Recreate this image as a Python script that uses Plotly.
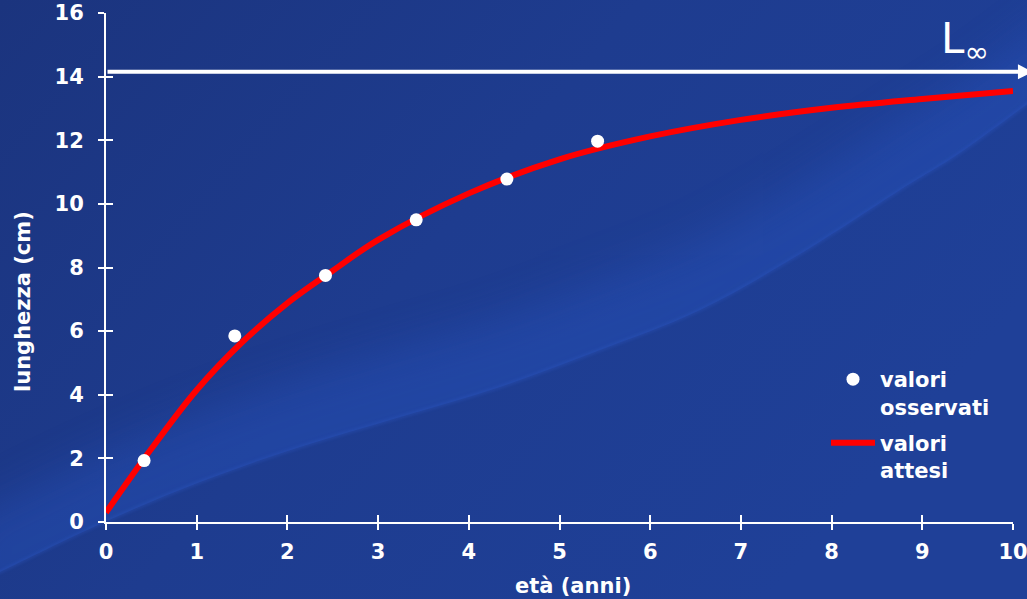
import base64
import plotly.graph_objects as go

# ---------------- data ----------------
age_obs = [0.42, 1.42, 2.42, 3.42, 4.42, 5.42]
len_obs = [1.93, 5.85, 7.75, 9.50, 10.78, 11.97]

age_fit = [0, 0.5, 1, 1.5, 2, 2.5, 3, 4, 5, 6, 7, 8, 9, 10]
len_fit = [0.3, 2.3, 4.15, 5.65, 6.88, 7.9, 8.87, 10.33, 11.4, 12.12, 12.64, 13.02, 13.3, 13.55]

L_inf = 14.15
x_ticks = list(range(0, 11))
y_ticks = list(range(0, 17, 2))

name_obs = "valori<br>osservati"
name_fit = "valori<br>attesi"
x_title = "età (anni)"
y_title = "lunghezza (cm)"

# ---------------- geometry ----------------
W, H = 1027, 599
ML, MR, MT, MB = 106, 14, 13, 77
PW, PH = W - ML - MR, H - MT - MB


def px(x):
    return (x - ML) / PW


def py(y):
    return (H - MB - y) / PH


FONT = "DejaVu Sans"
WHITE = "#ffffff"


# ---------------- background (svg image) ----------------
def smooth_path(pts, start=True):
    """Catmull-Rom -> cubic bezier path through pts."""
    d = f"M{pts[0][0]},{pts[0][1]}" if start else f"L{pts[0][0]},{pts[0][1]}"
    for i in range(len(pts) - 1):
        p0 = pts[i - 1] if i > 0 else pts[i]
        p1, p2 = pts[i], pts[i + 1]
        p3 = pts[i + 2] if i + 2 < len(pts) else p2
        c1 = (p1[0] + (p2[0] - p0[0]) / 6, p1[1] + (p2[1] - p0[1]) / 6)
        c2 = (p2[0] - (p3[0] - p1[0]) / 6, p2[1] - (p3[1] - p1[1]) / 6)
        d += f" C{c1[0]:.1f},{c1[1]:.1f} {c2[0]:.1f},{c2[1]:.1f} {p2[0]},{p2[1]}"
    return d


edge = [(-40, 592), (0, 572), (100, 524), (200, 482), (300, 447), (400, 417),
        (500, 387), (600, 350), (700, 310), (800, 254), (900, 190),
        (967, 148), (1070, 72)]
edge_d = smooth_path(edge)
band_up = [(x, y - 70) for x, y in edge]
band_dn = [(x, y + 40) for x, y in edge]
band_d = (smooth_path(band_dn) + " " + smooth_path(list(reversed(band_up)), start=False) + " Z")
clip_d = edge_d + " L1100,-100 L-100,-100 Z"
svg = f'''<svg xmlns="http://www.w3.org/2000/svg" width="{W}" height="{H}" viewBox="0 0 {W} {H}">
<defs>
<linearGradient id="g" x1="0" y1="0" x2="1" y2="0.5">
<stop offset="0" stop-color="#1b347e"/>
<stop offset="0.5" stop-color="#1e3c8f"/>
<stop offset="1" stop-color="#1f4098"/>
</linearGradient>
<filter id="b" x="-30%" y="-30%" width="160%" height="160%"><feGaussianBlur stdDeviation="22"/></filter>
<filter id="b2" x="-10%" y="-10%" width="120%" height="120%"><feGaussianBlur stdDeviation="1.5"/></filter>
<clipPath id="c"><path d="{clip_d}"/></clipPath>
</defs>
<rect width="{W}" height="{H}" fill="url(#g)"/>
<g clip-path="url(#c)"><path d="{band_d}" fill="#2a58c8" opacity="0.33" filter="url(#b)"/></g>
<path d="{edge_d}" fill="none" stroke="#2f5ccc" stroke-width="3" opacity="0.3" filter="url(#b2)"/>
</svg>'''
bg_src = "data:image/svg+xml;base64," + base64.b64encode(svg.encode()).decode()

# ---------------- figure ----------------
fig = go.Figure()
fig.add_trace(go.Scatter(
    x=age_fit, y=len_fit, mode="lines", name=name_fit, legendgroup="b",
    line=dict(color="#ff0000", width=6, shape="spline", smoothing=1),
    legendrank=2, hoverinfo="skip"))
fig.add_trace(go.Scatter(
    x=age_obs, y=len_obs, mode="markers", name=name_obs, legendgroup="a",
    marker=dict(color=WHITE, size=13, line=dict(width=0)),
    legendrank=1, hoverinfo="skip"))
# helper trace for the inner half of the crossing ticks
fig.add_trace(go.Scatter(x=[], y=[], xaxis="x2", yaxis="y2",
                         showlegend=False, hoverinfo="skip"))

axis_common = dict(showgrid=False, zeroline=False, showline=True,
                   linecolor=WHITE, linewidth=2, ticks="outside",
                   ticklen=6, tickwidth=2, tickcolor=WHITE, automargin=False,
                   ticklabeloverflow="allow",
                   tickfont=dict(family=FONT, size=21, color=WHITE,
                                 weight="bold"))

fig.update_layout(
    width=W, height=H,
    margin=dict(l=ML, r=MR, t=MT, b=MB, pad=0, autoexpand=False),
    paper_bgcolor="#1e3c8e",
    plot_bgcolor="rgba(0,0,0,0)",
    showlegend=True,
    xaxis=dict(range=[0, 10], tickvals=x_ticks, ticklabelstandoff=4,
               **axis_common),
    yaxis=dict(range=[0, 16], tickvals=y_ticks, ticklabelstandoff=10,
               **axis_common),
    xaxis2=dict(range=[0, 10], tickvals=x_ticks, overlaying="x", anchor="y2",
                showgrid=False, zeroline=False, showline=False,
                automargin=False,
                ticks="inside", ticklen=7, tickwidth=2, tickcolor=WHITE,
                showticklabels=False),
    yaxis2=dict(range=[0, 16], tickvals=y_ticks, overlaying="y", anchor="x2",
                showgrid=False, zeroline=False, showline=False,
                automargin=False,
                ticks="inside", ticklen=7, tickwidth=2, tickcolor=WHITE,
                showticklabels=False),
    legend=dict(x=px(826), y=py(359), xanchor="left", yanchor="top",
                bgcolor="rgba(0,0,0,0)", borderwidth=0,
                font=dict(family=FONT, size=21, color=WHITE, weight="bold"),
                valign="top", tracegroupgap=6, itemwidth=44,
                traceorder="grouped"),
    images=[dict(source=bg_src, xref="paper", yref="paper",
                 x=px(0), y=py(0), sizex=W / PW, sizey=H / PH,
                 xanchor="left", yanchor="top", sizing="stretch",
                 layer="below")],
)

# L-infinity arrow
fig.add_annotation(x=10.22, y=L_inf, ax=0, ay=L_inf, xref="x", yref="y",
                   axref="x", ayref="y", text="", showarrow=True,
                   arrowhead=2, arrowsize=0.75, arrowwidth=4,
                   arrowcolor=WHITE)
fig.add_annotation(x=px(939), y=py(42), xref="paper", yref="paper",
                   text="L<sub>∞</sub>", showarrow=False,
                   xanchor="left", yanchor="middle",
                   font=dict(family=FONT, size=42, color=WHITE))

# axis titles
fig.add_annotation(x=px(23), y=py(302), xref="paper", yref="paper",
                   text=y_title, textangle=-90, showarrow=False,
                   xanchor="center", yanchor="middle",
                   font=dict(family=FONT, size=21, color=WHITE, weight="bold"))
fig.add_annotation(x=px(573), y=py(586), xref="paper", yref="paper",
                   text=x_title, showarrow=False,
                   xanchor="center", yanchor="middle",
                   font=dict(family=FONT, size=21, color=WHITE, weight="bold"))

fig.write_html("out.html")
